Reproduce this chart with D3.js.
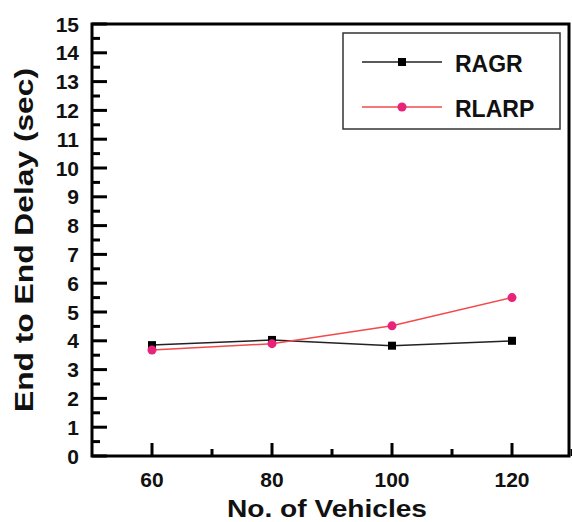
<!DOCTYPE html>
<html><head><meta charset="utf-8">
<script src="https://cdn.jsdelivr.net/npm/d3@7"></script>
<style>body{margin:0;background:#fff}svg{display:block}text{font-family:"Liberation Sans",Arial,sans-serif;font-weight:bold;fill:#111}</style>
</head><body><svg id="c" width="572" height="522"></svg>
<script>
const vehicles = [60, 80, 100, 120];
const ragr = [3.85, 4.03, 3.83, 4.0];
const rlarp = [3.68, 3.9, 4.52, 5.5];
const seriesNames = ["RAGR", "RLARP"];
const yTicks = d3.range(0, 16, 1);
const xTicks = [60, 80, 100, 120];

const svg = d3.select("#c");
const L = 92, R = 571, T = 24, B = 456;
const x = d3.scaleLinear().domain([50, 130]).range([L, L + 480]);
const y = d3.scaleLinear().domain([0, 15]).range([B, T]);

// frame
svg.append("rect").attr("x", L).attr("y", T).attr("width", R - 2 - L).attr("height", B - T)
  .attr("fill", "none").attr("stroke", "#000").attr("stroke-width", 3);

// y ticks
const ya = svg.append("g");
yTicks.forEach(v => {
  ya.append("line").attr("x1", L).attr("x2", L + 15).attr("y1", y(v)).attr("y2", y(v)).attr("stroke", "#000").attr("stroke-width", 3);
  if (v < 15) ya.append("line").attr("x1", L).attr("x2", L + 8).attr("y1", y(v + 0.5)).attr("y2", y(v + 0.5)).attr("stroke", "#000").attr("stroke-width", 3);
  ya.append("text").attr("x", L - 13).attr("y", y(v)).attr("dy", "0.36em").attr("text-anchor", "end")
    .attr("font-size", 21).text(v);
});
// x ticks
const xa = svg.append("g");
xTicks.forEach(v => {
  xa.append("line").attr("x1", x(v)).attr("x2", x(v)).attr("y1", B).attr("y2", B - 13).attr("stroke", "#000").attr("stroke-width", 3);
  xa.append("line").attr("x1", x(v + 10)).attr("x2", x(v + 10)).attr("y1", B).attr("y2", B - 7).attr("stroke", "#000").attr("stroke-width", 3);
  xa.append("text").attr("x", x(v)).attr("y", B + 31).attr("text-anchor", "middle").attr("font-size", 21).text(v);
});

// axis titles
svg.append("text").attr("x", 327).attr("y", 517).attr("text-anchor", "middle").attr("font-size", 23)
  .attr("textLength", 200).attr("lengthAdjust", "spacingAndGlyphs").text("No. of Vehicles");
svg.append("text").attr("transform", "translate(33,240) rotate(-90)").attr("text-anchor", "middle")
  .attr("font-size", 25).attr("textLength", 344).attr("lengthAdjust", "spacingAndGlyphs").text("End to End Delay (sec)");

const line = d3.line().x((d, i) => x(vehicles[i])).y(d => y(d));
svg.append("path").attr("d", line(ragr)).attr("fill", "none").attr("stroke", "#222").attr("stroke-width", 1.5);
svg.append("path").attr("d", line(rlarp)).attr("fill", "none").attr("stroke", "#f24a4a").attr("stroke-width", 1.5);
svg.selectAll(".sq").data(ragr).enter().append("rect")
  .attr("x", (d, i) => x(vehicles[i]) - 4).attr("y", d => y(d) - 4).attr("width", 8).attr("height", 8).attr("fill", "#000");
svg.selectAll(".ci").data(rlarp).enter().append("circle")
  .attr("cx", (d, i) => x(vehicles[i])).attr("cy", d => y(d)).attr("r", 4.5).attr("fill", "#e8237a");

// legend
const lg = svg.append("g");
lg.append("rect").attr("x", 343).attr("y", 33).attr("width", 217).attr("height", 96).attr("fill", "#fff").attr("stroke", "#333").attr("stroke-width", 1.5);
const legColors = ["#222", "#f24a4a"];
seriesNames.forEach((n, i) => {
  const yy = 62 + i * 45;
  lg.append("line").attr("x1", 362).attr("x2", 442).attr("y1", yy).attr("y2", yy).attr("stroke", legColors[i]).attr("stroke-width", 1.5);
  if (i === 0) lg.append("rect").attr("x", 398).attr("y", yy - 4).attr("width", 8).attr("height", 8).attr("fill", "#000");
  else lg.append("circle").attr("cx", 402).attr("cy", yy).attr("r", 4.5).attr("fill", "#e8237a");
  lg.append("text").attr("x", 455).attr("y", yy + 2).attr("dy", "0.36em").attr("font-size", 23).text(n);
});
</script></body></html>
